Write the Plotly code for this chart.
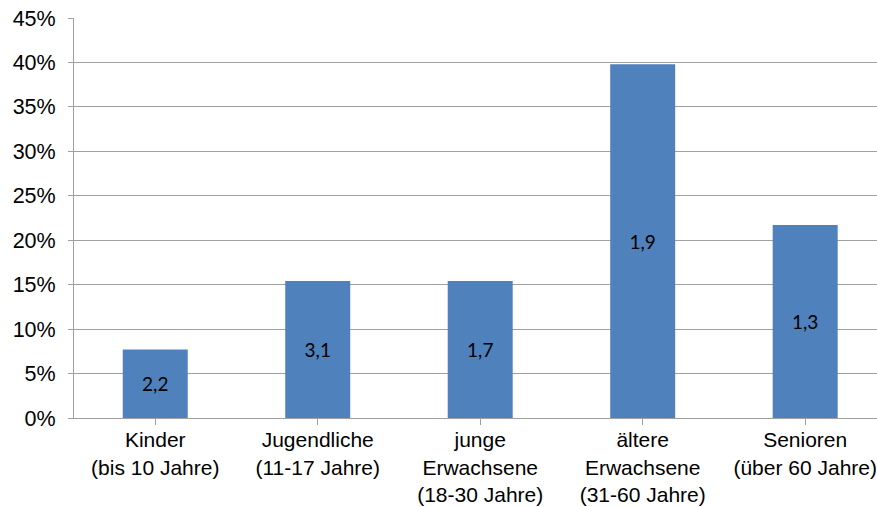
import plotly.graph_objects as go

categories = [
    "Kinder<br>(bis 10 Jahre)",
    "Jugendliche<br>(11-17 Jahre)",
    "junge<br>Erwachsene<br>(18-30 Jahre)",
    "ältere<br>Erwachsene<br>(31-60 Jahre)",
    "Senioren<br>(über 60 Jahre)",
]
shares = [7.7, 15.4, 15.4, 39.8, 21.7]
bar_labels = ["2,2", "3,1", "1,7", "1,9", "1,3"]
y_ticks = [0, 5, 10, 15, 20, 25, 30, 35, 40, 45]

fig = go.Figure()
fig.add_trace(go.Bar(
    x=list(range(len(categories))),
    y=shares,
    width=0.4,
    marker=dict(color="#4F81BD", line=dict(width=0)),
    text=bar_labels,
    textposition="inside",
    insidetextanchor="middle",
    textangle=0,
    textfont=dict(family="Lato", size=19, color="#000000"),
    hoverinfo="skip",
))

fig.update_layout(
    width=877,
    height=507,
    margin=dict(l=74, r=0, t=18, b=89),
    paper_bgcolor="white",
    plot_bgcolor="white",
    showlegend=False,
    font=dict(family="Liberation Sans, Arial", size=21, color="#000000"),
)

fig.update_xaxes(
    automargin=False,
    range=[-0.5, 4.442],
    tickmode="array",
    tickvals=list(range(len(categories))),
    ticktext=categories,
    tickson="boundaries",
    ticks="outside",
    ticklen=6,
    tickcolor="#A0A0A0",
    showline=True,
    linecolor="#A0A0A0",
    linewidth=1,
    showgrid=False,
    zeroline=False,
    ticklabeloverflow="allow",
    ticklabelstandoff=-3,
    tickfont=dict(family="Liberation Sans, Arial", size=21, color="#000000"),
)

fig.update_yaxes(
    automargin=False,
    range=[0, 45],
    tickmode="array",
    tickvals=y_ticks,
    ticktext=[f"{v}%" for v in y_ticks],
    ticks="outside",
    ticklen=5,
    tickcolor="#A0A0A0",
    showline=True,
    linecolor="#A0A0A0",
    linewidth=1,
    showgrid=True,
    gridcolor="#A0A0A0",
    gridwidth=1,
    zeroline=False,
    ticklabeloverflow="allow",
    ticklabelstandoff=8,
    tickfont=dict(family="Liberation Sans, Arial", size=21.5, color="#000000"),
)

fig.write_html(
    "out.html",
    config={"displayModeBar": False, "staticPlot": True},
    post_script="document.body.style.margin='0';document.body.style.overflow='hidden';",
)
